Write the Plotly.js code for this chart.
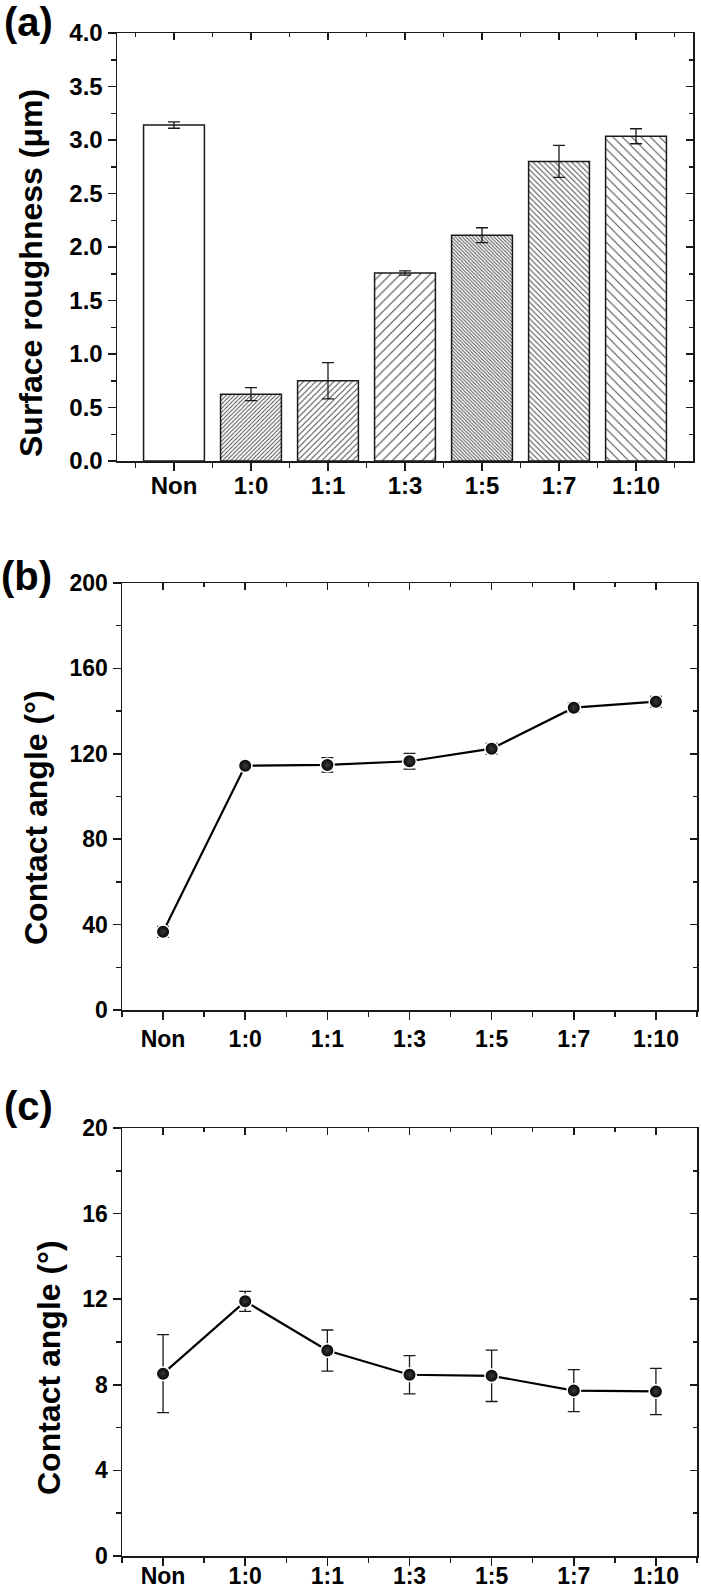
<!DOCTYPE html>
<html>
<head>
<meta charset="utf-8">
<script src="https://cdn.plot.ly/plotly-3.0.1.min.js"></script>
<style>html,body{margin:0;padding:0;background:#fff;}#chart{width:701px;height:1591px;}</style>
</head>
<body>
<div id="chart"></div>
<script>
// ---- data ----
var categories = ['Non', '1:0', '1:1', '1:3', '1:5', '1:7', '1:10'];
var roughness = [3.14, 0.625, 0.75, 1.757, 2.11, 2.80, 3.035];
var roughnessErr = [0.03, 0.06, 0.17, 0.02, 0.07, 0.15, 0.07];
var angleB = [36.6, 114.4, 114.8, 116.5, 122.4, 141.6, 144.4];
var angleBErr = [2.6, 1.0, 3.4, 3.7, 2.5, 2.2, 2.5];
var angleC = [8.52, 11.9, 9.6, 8.47, 8.42, 7.73, 7.69];
var angleCErr = [1.82, 0.47, 0.96, 0.89, 1.2, 0.98, 1.08];
var yTicksA = [0, 0.5, 1.0, 1.5, 2.0, 2.5, 3.0, 3.5, 4.0];
var yTicksB = [0, 40, 80, 120, 160, 200];
var yTicksC = [0, 4, 8, 12, 16, 20];

// ---- styles ----
var W = 701, H = 1591;
var FONT = 'Liberation Sans, Arial, Helvetica, sans-serif';
var INK = '#1a1a1a';
var patShapes = ['', '/', '/', '/', '\\', '\\', '\\'];
var patSizes = [6, 2.9, 4.3, 7.0, 2.5, 3.9, 6.6];
var patSolid = [0.3, 0.33, 0.23, 0.15, 0.36, 0.24, 0.15];

var idx = categories.map(function (c, i) { return i; });
var halves = [-0.5].concat(idx.map(function (i) { return i + 0.5; }));

function px2x(p) { return p / W; }
function px2y(p) { return 1 - p / H; }

var panels = [
  {x0: 117, x1: 693, y0: 33, y1: 461, xr: [-0.74, 6.74], yr: [0, 4], yt: yTicksA, ym: 0.25, fmt: '.1f', fs: 24, xso: -5},
  {x0: 122, x1: 697, y0: 583, y1: 1010, xr: [-0.5, 6.5], yr: [0, 200], yt: yTicksB, ym: 20, fmt: '', fs: 23, xso: 0},
  {x0: 122, x1: 697, y0: 1128, y1: 1556, xr: [-0.5, 6.5], yr: [0, 20], yt: yTicksC, ym: 2, fmt: '', fs: 23, xso: -9}
];

var layout = {
  width: W, height: H, autosize: false,
  margin: {l: 0, r: 0, t: 0, b: 0, pad: 0},
  paper_bgcolor: '#fff', plot_bgcolor: '#fff',
  showlegend: false,
  annotations: []
};

panels.forEach(function (p, k) {
  var n = k + 1, m = k + 4;
  var xk = n === 1 ? 'xaxis' : 'xaxis' + n;
  var yk = n === 1 ? 'yaxis' : 'yaxis' + n;
  var yid = n === 1 ? 'y' : 'y' + n;
  var xid = n === 1 ? 'x' : 'x' + n;
  var yMinor = [];
  for (var v = p.yr[0]; v <= p.yr[1] + 1e-9; v += p.ym) yMinor.push(+v.toFixed(4));
  var common = {showgrid: false, zeroline: false, showline: true, linewidth: 1.5, linecolor: INK,
    tickcolor: INK, tickwidth: 1.5, fixedrange: true};
  layout[xk] = Object.assign({}, common, {
    domain: [px2x(p.x0), px2x(p.x1)], anchor: yid, range: p.xr,
    tickmode: 'array', tickvals: idx, ticktext: categories,
    ticks: 'outside', ticklen: 8, ticklabelstandoff: p.xso,
    minor: {tickmode: 'array', tickvals: halves, ticks: 'outside', ticklen: 5, tickwidth: 1.5, tickcolor: INK},
    tickfont: {family: FONT, size: p.fs, color: '#000', weight: 'bold'}
  });
  layout[yk] = Object.assign({}, common, {
    domain: [px2y(p.y1), px2y(p.y0)], anchor: xid, range: p.yr,
    tickmode: 'array', tickvals: p.yt, tickformat: p.fmt,
    ticks: 'outside', ticklen: 8,
    minor: {tickmode: 'array', tickvals: yMinor, ticks: 'outside', ticklen: 5, tickwidth: 1.5, tickcolor: INK},
    tickfont: {family: FONT, size: p.fs, color: '#000', weight: 'bold'}
  });
  // mirrored axes with inward ticks
  layout['xaxis' + m] = Object.assign({}, common, {
    overlaying: xid, side: 'top', anchor: yid, range: p.xr, type: 'linear',
    tickmode: 'array', tickvals: idx, ticks: 'inside', ticklen: 7, showticklabels: false,
    minor: {tickmode: 'array', tickvals: halves, ticks: 'inside', ticklen: 4, tickwidth: 1.5, tickcolor: INK}
  });
  layout['yaxis' + m] = Object.assign({}, common, {
    overlaying: yid, side: 'right', anchor: xid, range: p.yr, type: 'linear',
    tickmode: 'array', tickvals: p.yt, ticks: 'inside', ticklen: 7, showticklabels: false,
    minor: {tickmode: 'array', tickvals: yMinor, ticks: 'inside', ticklen: 4, tickwidth: 1.5, tickcolor: INK}
  });
});

// titles and panel letters
var titles = [
  {t: 'Surface roughness (μm)', x: 31, y: 273},
  {t: 'Contact angle (°)', x: 36, y: 818},
  {t: 'Contact angle (°)', x: 49, y: 1368}
];
titles.forEach(function (o) {
  layout.annotations.push({xref: 'paper', yref: 'paper', x: px2x(o.x), y: px2y(o.y),
    text: o.t, textangle: -90, showarrow: false, xanchor: 'center', yanchor: 'middle',
    font: {family: FONT, size: 32, color: '#000', weight: 'bold'}});
});
[['(a)', 28, 22], ['(b)', 27, 576], ['(c)', 28, 1106]].forEach(function (o) {
  layout.annotations.push({xref: 'paper', yref: 'paper', x: px2x(o[1]), y: px2y(o[2]),
    text: o[0], showarrow: false, xanchor: 'center', yanchor: 'middle',
    font: {family: FONT, size: 40, color: '#000', weight: 'bold'}});
});

var traces = [];
traces.push({
  type: 'bar', x: idx, y: roughness, xaxis: 'x', yaxis: 'y', width: 0.79,
  error_y: {type: 'data', array: roughnessErr, visible: true, color: INK, thickness: 1.3, width: 6},
  marker: {color: '#fff', line: {color: INK, width: 1.5},
    pattern: {shape: patShapes, size: patSizes, solidity: patSolid, fgcolor: '#444', fillmode: 'replace'}},
  hoverinfo: 'skip'
});
function lineTrace(vals, errs, xa, ya) {
  return {
    type: 'scatter', mode: 'lines+markers', x: idx, y: vals, xaxis: xa, yaxis: ya,
    line: {color: '#000', width: 2.2},
    marker: {symbol: 'circle', size: 13.5, color: '#000', line: {color: '#fff', width: 1.5},
      gradient: {type: 'radial', color: '#3a3a3a'}},
    error_y: {type: 'data', array: errs, visible: true, color: INK, thickness: 1.3, width: 6},
    hoverinfo: 'skip', cliponaxis: false
  };
}
traces.push(lineTrace(angleB, angleBErr, 'x2', 'y2'));
traces.push(lineTrace(angleC, angleCErr, 'x3', 'y3'));
// empty traces to activate mirrored axes
[4, 5, 6].forEach(function (m) {
  traces.push({type: 'scatter', x: [null], y: [null], xaxis: 'x' + m, yaxis: 'y' + m, hoverinfo: 'skip', showlegend: false});
});

Plotly.newPlot('chart', traces, layout, {staticPlot: true, displayModeBar: false});
</script>
</body>
</html>
